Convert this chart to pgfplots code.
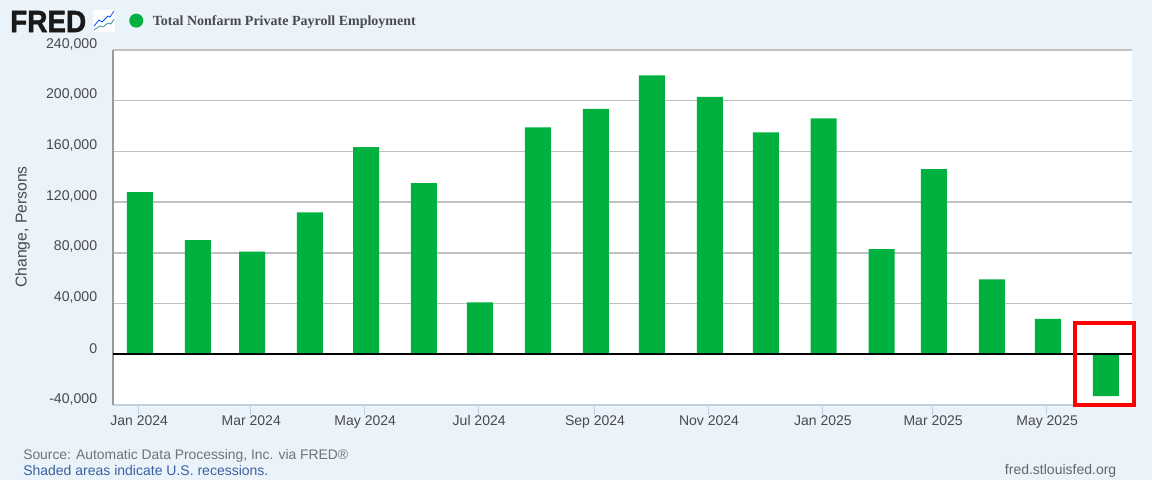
\documentclass[border=0pt]{standalone}
\usepackage{pgfplots}
\pgfplotsset{compat=1.18}
\usepackage{fontspec}
\setmainfont{Liberation Sans}
\newfontfamily\serifb{Liberation Serif}[BoldFont={Liberation Serif Bold}]
\newfontfamily\logofont{Liberation Sans Bold}[FakeBold=1.6]
\definecolor{bgc}{HTML}{EAF2FA}
\definecolor{barc}{HTML}{00B140}
\definecolor{gridc}{HTML}{C0C0C0}
\definecolor{xaxc}{HTML}{C0D0E0}
\definecolor{txtc}{HTML}{4A4A4A}
\begin{document}
\begin{tikzpicture}[x=0.75pt,y=-0.75pt]
\useasboundingbox (0,0) rectangle (1152,480);
\fill[bgc] (0,0) rectangle (1152,480);
\begin{axis}[
  at={(84.75pt,-303.75pt)}, anchor=south west,
  scale only axis, width=764.25pt, height=266.25pt,
  xmin=-13.65, xmax=531.8, ymin=-40000, ymax=240000,
  axis background/.style={fill=white},
  axis x line*=bottom, axis y line*=left,
  axis line style={-},
  x axis line style={xaxc, line width=1pt},
  y axis line style={color=black!40, line width=0.8pt},
  xtick={0,60,121,182,244,305,366,425,486},
  xticklabels={Jan 2024,Mar 2024,May 2024,Jul 2024,Sep 2024,Nov 2024,Jan 2025,Mar 2025,May 2025},
  ytick={-40000,0,40000,80000,120000,160000,200000,240000},
  ymajorgrids, grid style={gridc, line width=1.05pt},
  major y tick style={draw=none},
  x tick style={xaxc, line width=0.75pt},
  tick align=outside, major tick length=7.5pt,
  xticklabel style={font=\fontsize{10.5pt}{12pt}\selectfont, text=txtc, yshift=3pt, xshift=0.5pt},
  yticklabel style={font=\fontsize{10.6pt}{12pt}\selectfont, text=txtc, yshift=4.5pt, xshift=-0.8pt},
  /pgf/number format/assume math mode=true,
  /pgf/number format/fixed,
  /pgf/number format/1000 sep={,},
  scaled y ticks=false,
  ylabel={Change, Persons},
  every axis y label/.style={at={(axis description cs:-0.0888,0.5014)}, rotate=90, anchor=center,
    font=\fontsize{11.8pt}{13pt}\selectfont, text=txtc},
  legend style={draw=none, fill=none, at={(0.0157,1.079)}, anchor=west,
    inner xsep=0pt, inner ysep=0pt,
    font=\fontsize{10.5pt}{12pt}\selectfont\serifb\bfseries, text=txtc},
  clip=false,
]
\addplot[ybar, fill=barc, draw=none, bar width=19.5pt, bar shift=1.1pt,
  legend image code/.code={\fill[barc] (0.15cm,1pt) circle (5.25pt);}]
  coordinates {
  (0,128000) (31,90000) (60,81000) (91,112000) (121,163500) (152,135000)
  (182,41000) (213,179000) (244,193500) (274,220000) (305,203000) (335,175000)
  (366,186000) (397,83000) (425,146000) (456,59000) (486,28000) (517,-33000)};
\addlegendentry{\hspace*{5.25pt}Total Nonfarm Private Payroll Employment}
\draw[black, line width=1.5pt] (axis cs:-13.65,0) -- (axis cs:531.8,0);
\end{axis}
% annotation box
\draw[red, line width=3.4pt] (1075,323) rectangle (1134,405);
% logo
\node[anchor=west, inner sep=0pt, text=black!90, xscale=0.91, font=\fontsize{23pt}{24pt}\logofont] at (10,21.5) {FRED};
\fill[white] (93,10) rectangle (115,32);
\draw[blue!70!cyan, line width=0.6pt] (94,26) -- (99,20) -- (102,22) -- (108,16) -- (110,17) -- (114,11);
\draw[teal!80, line width=0.6pt] (94,30) -- (100,26) -- (103,27) -- (108,23) -- (111,24) -- (114,19);
% footer
\node[anchor=west, inner sep=0pt, text=black!55, font=\fontsize{10.4pt}{12pt}\selectfont] at (23,456) {Source: Automatic Data Processing, Inc. via FRED\textregistered};
\node[anchor=west, inner sep=0pt, text={rgb,255:red,60;green,97;blue,160}, font=\fontsize{10.5pt}{12pt}\selectfont] at (23,470.5) {Shaded areas indicate U.S. recessions.};
\node[anchor=east, inner sep=0pt, text=black!60, font=\fontsize{10.5pt}{12pt}\selectfont] at (1116.5,470.5) {fred.stlouisfed.org};
\end{tikzpicture}
\end{document}
